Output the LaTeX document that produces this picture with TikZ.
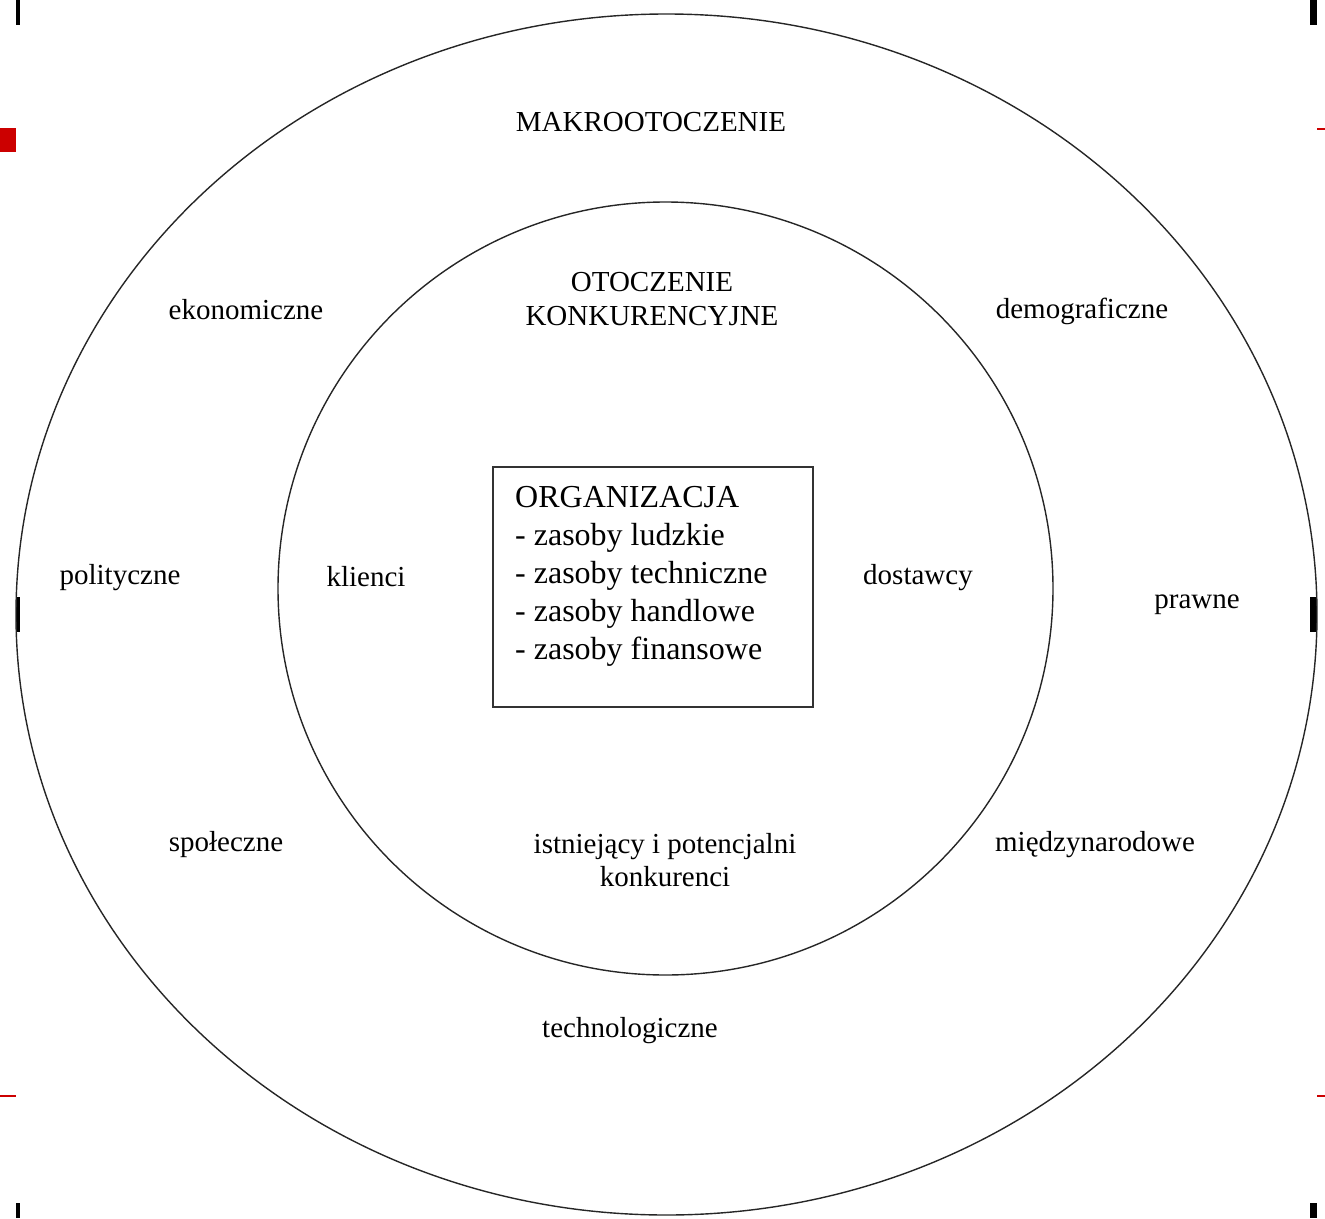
\documentclass[tikz,border=0pt]{standalone}
\usepackage{fontspec}
\usetikzlibrary{shapes.geometric}
\setmainfont{Liberation Serif}
\definecolor{markred}{RGB}{204,0,0}
\tikzset{
  ring/.style={draw=black!85, line width=1.4pt, ellipse, inner sep=0pt},
  orgbox/.style={draw=black!80, line width=1.6pt, minimum width=320pt, minimum height=240pt, inner sep=0pt},
  lbl/.style={font=\fontsize{29}{33}\selectfont, inner sep=0pt, align=center},
  orgtext/.style={font=\fontsize{32}{38}\selectfont, inner sep=0pt, align=left, anchor=north west},
  blackmark/.style={fill=black, draw=none},
  redmark/.style={fill=markred, draw=none}
}
\begin{document}
\begin{tikzpicture}[x=1pt,y=1pt]
\useasboundingbox (0,0) rectangle (1325,-1218);
% edge marks
\fill[blackmark] (16,0) rectangle (20,-25);
\fill[blackmark] (1310,0) rectangle (1317,-25);
\fill[redmark] (0,-128) rectangle (16,-152);
\fill[redmark] (1317,-128) rectangle (1325,-130);
\fill[blackmark] (16,-597) rectangle (20,-632);
\fill[blackmark] (1310,-597) rectangle (1317,-632);
\fill[redmark] (0,-1095) rectangle (16,-1097);
\fill[redmark] (1317,-1095) rectangle (1325,-1097);
\fill[blackmark] (16,-1203) rectangle (20,-1218);
\fill[blackmark] (1310,-1203) rectangle (1317,-1218);
% rings
\node[ring, minimum width=1301pt, minimum height=1201pt] (macro) at (666.5,-614.5) {};
\node[ring, minimum width=775pt, minimum height=773pt] (comp) at (665.5,-588.5) {};
% organization box
\node[orgbox] (org) at (653,-587) {};
\node[orgtext] (orgtxt) at (515,-486) {ORGANIZACJA\\- zasoby ludzkie\\- zasoby techniczne\\- zasoby handlowe\\- zasoby finansowe};
% labels
\node[lbl] (makro) at (651,-122) {MAKROOTOCZENIE};
\node[lbl, font=\fontsize{29}{34}\selectfont] (otocz) at (652,-299) {OTOCZENIE\\KONKURENCYJNE};
\node[lbl] (ekon) at (246,-310) {ekonomiczne};
\node[lbl] (demo) at (1082,-311) {demograficzne};
\node[lbl] (polit) at (120,-578) {polityczne};
\node[lbl] (klienci) at (366,-577) {klienci};
\node[lbl] (dost) at (918,-578) {dostawcy};
\node[lbl] (prawne) at (1197,-605) {prawne};
\node[lbl] (spol) at (226,-845) {społeczne};
\node[lbl, font=\fontsize{29}{33}\selectfont] (konk) at (665,-860) {istniejący i potencjalni\\konkurenci};
\node[lbl] (miedzy) at (1095,-845) {międzynarodowe};
\node[lbl] (techno) at (630,-1031) {technologiczne};
\end{tikzpicture}
\end{document}
